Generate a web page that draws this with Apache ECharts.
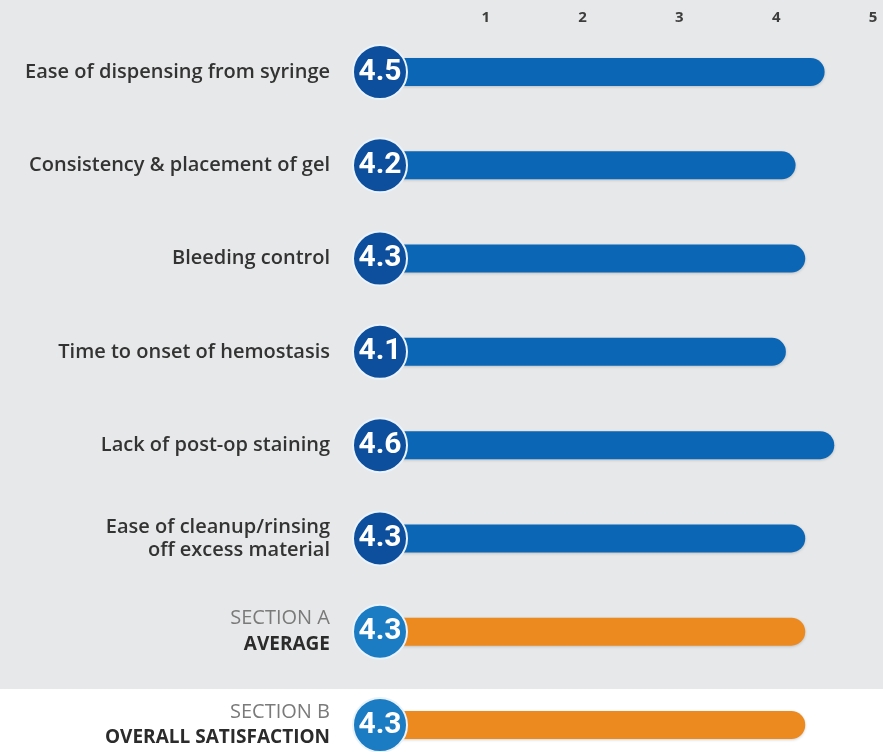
<!DOCTYPE html>
<html><head><meta charset="utf-8">
<script src="https://cdn.jsdelivr.net/npm/echarts@6/dist/echarts.min.js"></script>
<style>html,body{margin:0;padding:0;background:#fff}#c{width:883px;height:752px}</style>
</head><body><div id="c"></div>
<script>
const categories = [
  "Ease of dispensing from syringe",
  "Consistency & placement of gel",
  "Bleeding control",
  "Time to onset of hemostasis",
  "Lack of post-op staining",
  "Ease of cleanup/rinsing\noff excess material",
  "SECTION A|AVERAGE",
  "SECTION B|OVERALL SATISFACTION"
];
const scores = [4.5, 4.2, 4.3, 4.1, 4.6, 4.3, 4.3, 4.3];
const tickValues = [1, 2, 3, 4, 5];

const barColors = ['#0b66b6','#0b66b6','#0b66b6','#0b66b6','#0b66b6','#0b66b6','#ec8a1f','#ec8a1f'];
const circleColors = ['#0d4f9c','#0d4f9c','#0d4f9c','#0d4f9c','#0d4f9c','#0d4f9c','#1b7cc3','#1b7cc3'];

const chart = echarts.init(document.getElementById('c'), null, {renderer:'canvas'});
const font = '"Open Sans", sans-serif';
chart.setOption({
  animation: false,
  backgroundColor: '#ffffff',
  graphic: [{
    type: 'rect', z: -10, silent: true,
    shape: {x: 0, y: 0, width: 883, height: 689},
    style: {fill: '#e7e8e9'}
  }],
  grid: {left: 389, top: 72, width: 484, height: 653, containLabel: false},
  xAxis: {
    type: 'value', position: 'top', min: 0, max: 5, interval: 1,
    axisLine: {show: false}, axisTick: {show: false}, splitLine: {show: false},
    axisLabel: {
      margin: 47, color: '#3d3d3d', fontSize: 15, fontWeight: 'bold', fontFamily: font,
      formatter: v => tickValues.includes(v) ? String(v) : ''
    }
  },
  yAxis: {
    type: 'category', inverse: true, data: categories, boundaryGap: false,
    axisLine: {show: false}, axisTick: {show: false}, splitLine: {show: false},
    axisLabel: {
      margin: 59, color: '#333333', fontSize: 20, fontWeight: 600, fontFamily: font,
      lineHeight: 23, align: 'right',
      formatter: v => {
        if (v.indexOf('|') >= 0) {
          const p = v.split('|');
          return '{a|' + p[0] + '}\n{b|' + p[1] + '}';
        }
        return v;
      },
      rich: {
        a: {color: '#7a7a7a', fontSize: 20, fontWeight: 'normal', fontFamily: font, lineHeight: 26, align: 'right'},
        b: {color: '#2b2b2b', fontSize: 19, fontWeight: 'bold', fontFamily: font, lineHeight: 26, align: 'right'}
      }
    }
  },
  series: [
    {
      type: 'bar', barWidth: 28, z: 2,
      data: scores.map((v, i) => ({
        value: v,
        itemStyle: {color: barColors[i], borderRadius: [0, 14, 14, 0],
          shadowColor: 'rgba(0,0,0,0.18)', shadowBlur: 3, shadowOffsetY: 1}
      }))
    },
    {
      type: 'scatter', z: 5, symbol: 'circle', symbolSize: 54, symbolOffset: [-9, 0],
      data: scores.map((v, i) => ({
        value: [0, i],
        itemStyle: {color: circleColors[i], opacity: 1, borderColor: '#eaf3fb', borderWidth: 2}
      })),
      label: {
        show: true, position: 'inside',
        formatter: p => scores[p.dataIndex].toFixed(1),
        color: '#ffffff', fontSize: 30, fontWeight: 'bold', fontFamily: 'Roboto, sans-serif'
      }
    }
  ]
});
</script></body></html>
